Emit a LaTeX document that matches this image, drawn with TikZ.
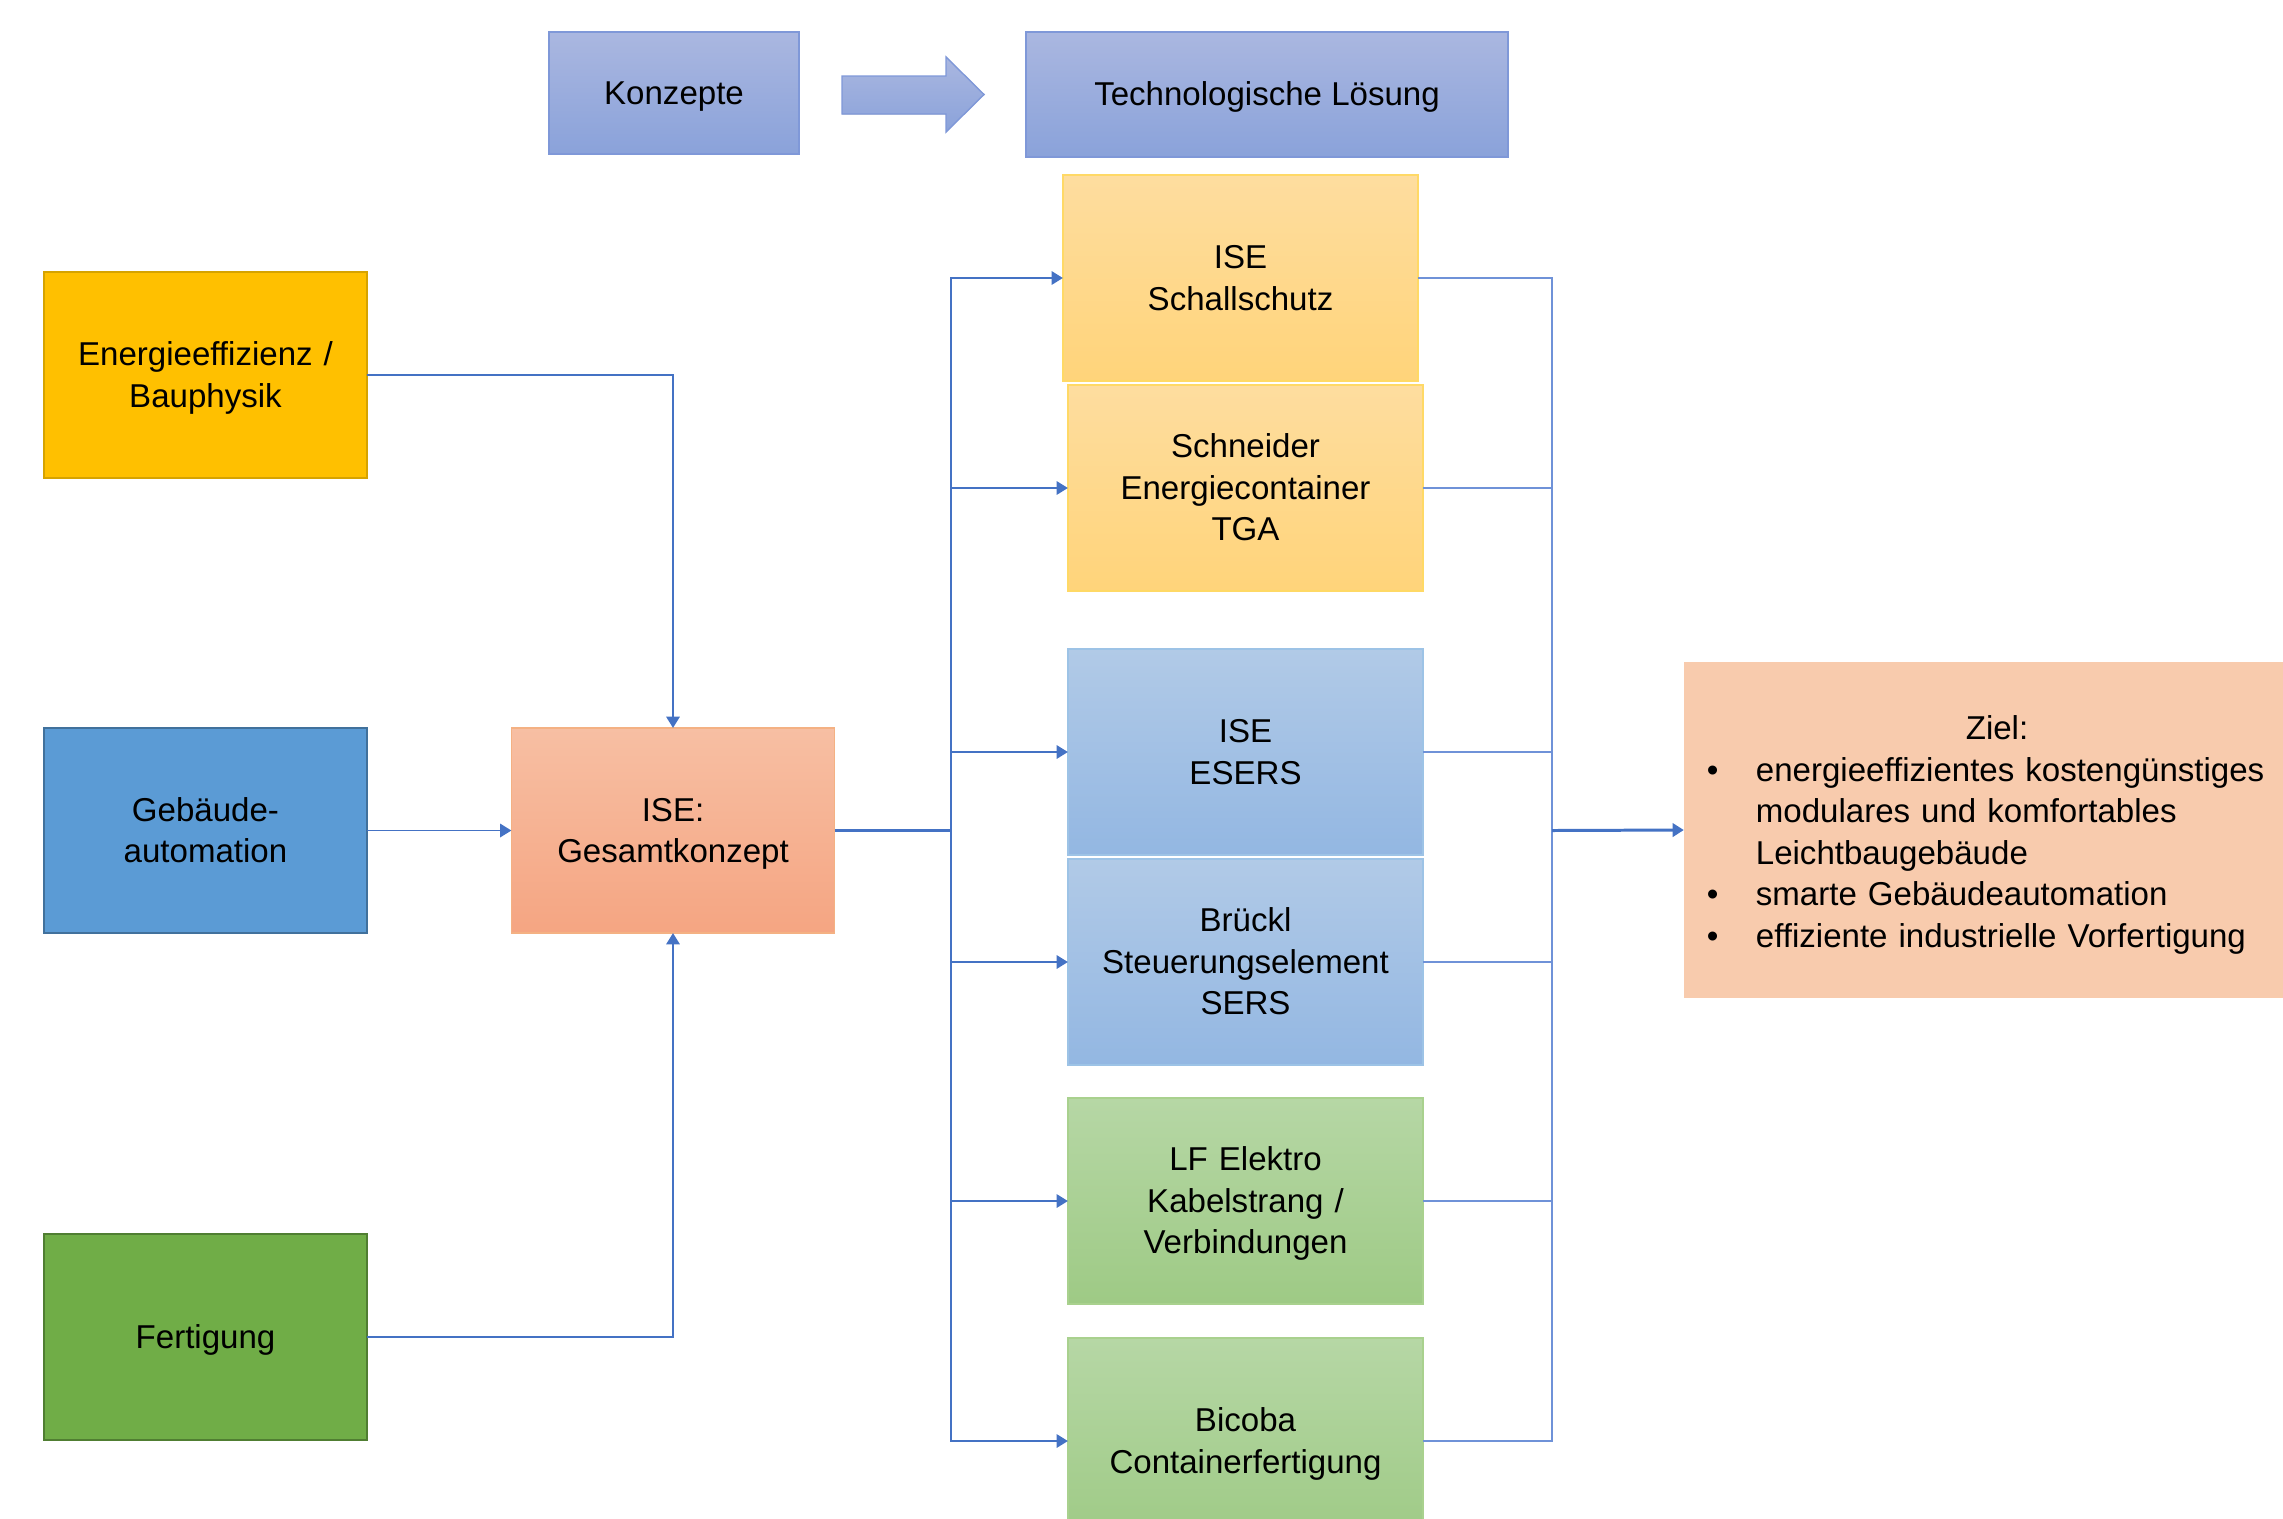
\documentclass[tikz,border=0pt]{standalone}
\usepackage{fontspec}
\setmainfont{Liberation Sans}[Ligatures=NoCommon]
\usetikzlibrary{arrows.meta}
\definecolor{hdrTop}{HTML}{AAB7E0}
\definecolor{hdrBot}{HTML}{8AA2DA}
\definecolor{hdrLine}{HTML}{7F98D8}
\definecolor{gold}{HTML}{FFC000}
\definecolor{goldLine}{HTML}{D6A300}
\definecolor{gblue}{HTML}{5B9BD5}
\definecolor{gblueLine}{HTML}{41719C}
\definecolor{fgreen}{HTML}{70AD47}
\definecolor{fgreenLine}{HTML}{507E32}
\definecolor{iseTop}{HTML}{F7BFA3}
\definecolor{iseBot}{HTML}{F5A582}
\definecolor{iseLine}{HTML}{F4B183}
\definecolor{yTop}{HTML}{FEDD9F}
\definecolor{yBot}{HTML}{FFD47A}
\definecolor{yLine}{HTML}{FFD966}
\definecolor{lbTop}{HTML}{B1CAE7}
\definecolor{lbBot}{HTML}{93B7E2}
\definecolor{lbLine}{HTML}{9DC3E6}
\definecolor{grTop}{HTML}{B6D7A5}
\definecolor{grBot}{HTML}{9ECA85}
\definecolor{grLine}{HTML}{A9D18E}
\definecolor{zielFill}{HTML}{F8CBAD}
\definecolor{connThin}{HTML}{6F92D8}
\definecolor{connThick}{HTML}{4472C4}
\newcommand\pstrut{\rule[-2pt]{0pt}{10.5pt}}
\begin{document}
\begin{tikzpicture}[x=0.01cm,y=-0.01cm,
  every node/.style={font=\fontsize{9.4}{11.8}\selectfont, inner sep=0pt, outer sep=0pt, align=center,
    execute at begin node=\pstrut, execute at end node=\pstrut},
  boxbase/.style={draw, line width=0.5pt, rectangle},
  leftbox/.style={boxbase, minimum width=3.23cm, minimum height=2.06cm, text width=3.23cm},
  rightbox/.style={boxbase, minimum width=3.55cm, minimum height=2.06cm, text width=3.55cm},
  hdr/.style={boxbase, top color=hdrTop, bottom color=hdrBot, draw=hdrLine},
  yel/.style={rightbox, top color=yTop, bottom color=yBot, draw=yLine},
  lbl/.style={rightbox, top color=lbTop, bottom color=lbBot, draw=lbLine},
  grn/.style={rightbox, top color=grTop, bottom color=grBot, draw=grLine},
  conn/.style={draw=connThin, line width=0.55pt},
  connmain/.style={draw=connThick, line width=0.85pt},
  tip/.style={-{Triangle[length=3.2pt,width=3.8pt]}, color=connThick}
]
\useasboundingbox (0,0) rectangle (2283,1518);
\clip (0,0) rectangle (2283,1518);

% header
\node[hdr, minimum width=2.50cm, minimum height=1.22cm] (konz) at (674,93) {Konzepte};
\node[hdr, minimum width=4.82cm, minimum height=1.25cm] (tech) at (1267,94.5) {Technologische Lösung};
\filldraw[top color=hdrTop, bottom color=hdrBot, draw=hdrLine, line width=0.4pt]
  (842,76) -- (946,76) -- (946,57) -- (984,94.5) -- (946,132) -- (946,114) -- (842,114) -- cycle;

% left column
\node[leftbox, fill=gold, draw=goldLine] (energie) at (205.5,375) {Energieeffizienz /\\Bauphysik};
\node[leftbox, fill=gblue, draw=gblueLine, minimum height=2.05cm] (geb) at (205.5,830.5) {Gebäude-\\automation};
\node[leftbox, fill=fgreen, draw=fgreenLine] (fert) at (205.5,1337) {Fertigung};
\node[leftbox, top color=iseTop, bottom color=iseBot, draw=iseLine, minimum height=2.05cm] (ise) at (673,830.5) {ISE:\\Gesamtkonzept};

% right column
\node[yel] (schall) at (1240.5,278) {ISE\\Schallschutz};
\node[yel] (schneider) at (1245.5,488) {Schneider\\Energiecontainer\\TGA};
\node[lbl] (esers) at (1245.5,752) {ISE\\ESERS};
\node[lbl] (brueckl) at (1245.5,962) {Brückl\\Steuerungselement\\SERS};
\node[grn] (lf) at (1245.5,1201) {LF Elektro\\Kabelstrang /\\Verbindungen};
\node[grn] (bicoba) at (1245.5,1441) {Bicoba\\Containerfertigung};

% goal
\node[rectangle, fill=zielFill, minimum width=6.26cm, minimum height=3.36cm, text width=6.26cm, align=left,
      execute at begin node={\rule{0pt}{9.75pt}}] (ziel) at (1997,830)
  {\makebox[6.26cm][c]{Ziel:}\\
   \hspace*{0.23cm}\makebox[0.49cm][l]{\textbullet}energieeffizientes kostengünstiges\\
   \hspace*{0.72cm}modulares und komfortables\\
   \hspace*{0.72cm}Leichtbaugebäude\\
   \hspace*{0.23cm}\makebox[0.49cm][l]{\textbullet}smarte Gebäudeautomation\\
   \hspace*{0.23cm}\makebox[0.49cm][l]{\textbullet}effiziente industrielle Vorfertigung};

% bus coordinates
\coordinate (lb) at (951,830.5);
\coordinate (rb) at (1552,830.5);

% inputs to ISE
\draw[conn, tip] (energie.east) -| (ise.north);
\draw[conn, tip] (geb.east) -- (ise.west);
\draw[conn, tip] (fert.east) -| (ise.south);

% ISE to left bus
\draw[connmain] (ise.east) -- (lb);
\foreach \b in {schall,schneider,esers,brueckl,lf,bicoba}{
  \draw[conn, tip] (lb) |- (\b.west);
  \draw[conn] (\b.east) -| (rb);
}
\draw[connmain, tip] (rb) -- (ziel.west);
\end{tikzpicture}
\end{document}
